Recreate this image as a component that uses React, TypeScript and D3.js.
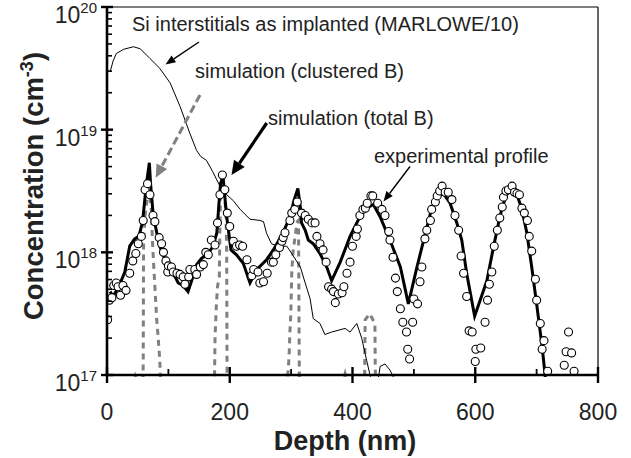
import React from "react";
import * as d3 from "d3";

const W = 631;
const H = 458;
const plot = { left: 107, right: 598, top: 7, bottom: 375 };

// Depth (nm) and log10 of concentration (cm^-3)
const interstitials: [number, number][] = [
  [5, 19.47], [10, 19.56], [15, 19.62], [27, 19.655], [43, 19.676], [54, 19.66],
  [70, 19.58], [86, 19.5], [103, 19.38], [119, 19.19], [135, 18.97], [146, 18.83],
  [153, 18.78], [162, 18.75], [172, 18.66], [184, 18.54], [195, 18.47], [206, 18.42],
  [217, 18.35], [233, 18.27], [249, 18.26], [255, 18.25], [260, 18.155], [268, 18.07],
  [279, 18.05], [293, 18.05], [301, 17.99], [315, 17.88], [326, 17.7], [331, 17.62],
  [336, 17.46], [347, 17.42], [355, 17.33], [366, 17.35], [388, 17.38], [396, 17.35],
  [407, 17.42], [415, 17.3], [423, 17.12], [429, 16.99], [434, 16.85], [440, 16.9],
  [445, 17.07], [453, 17.09], [461, 17.04], [467, 16.98], [472, 16.85],
];

const totalB: [number, number][] = [
  [5, 17.68], [10, 17.64], [20, 17.73], [29, 17.84], [37, 18.05], [45, 18.11], [52, 18.13],
  [58, 18.25], [64, 18.55], [69, 18.73], [71, 18.56], [75, 18.32], [81, 18.16], [86, 18.05],
  [97, 17.91], [111, 17.8], [116, 17.75], [124, 17.73], [132, 17.68], [138, 17.77], [146, 17.9],
  [154, 17.95], [165, 17.99], [173, 18.05], [179, 18.16], [182, 18.37], [185, 18.56], [189, 18.62],
  [191, 18.51], [195, 18.29], [202, 18.02], [211, 17.98], [222, 17.91], [233, 17.75], [244, 17.86],
  [260, 17.94], [271, 18.02], [287, 18.16], [298, 18.29], [305, 18.43], [311, 18.52], [315, 18.37],
  [317, 18.24], [323, 18.18], [328, 18.1], [336, 18.07], [347, 17.99], [358, 17.88], [366, 17.77],
  [380, 17.92], [396, 18.13], [412, 18.29], [423, 18.36], [434, 18.39], [445, 18.29], [461, 18.1],
  [478, 17.88], [491, 17.58], [505, 17.88], [516, 18.1], [527, 18.32], [537, 18.45], [548, 18.48],
  [559, 18.4], [570, 18.24], [578, 18.1], [586, 17.83], [599, 17.48], [608, 17.61], [619, 17.77],
  [630, 18.05], [638, 18.24], [644, 18.37], [652, 18.48], [660, 18.51], [668, 18.47], [676, 18.35],
  [684, 18.16], [692, 17.88], [700, 17.58], [709, 17.23], [714, 16.99], [718, 16.8],
];

const clusteredPeak1: [number, number][] = [
  [40, 16.9], [46, 16.99], [52, 16.9], [58.5, 16.9], [59, 17.1], [59.3, 17.6], [59.6, 18.07],
  [62, 18.3], [66, 18.45], [70, 18.45], [72, 18.37], [74, 18.1], [76, 17.9], [78, 17.72],
  [81, 17.45], [83.5, 17.3], [86, 17.12], [87.5, 16.9],
];
const clusteredPeak2: [number, number][] = [
  [175, 16.9], [176, 17.3], [178, 17.55], [180, 17.72], [183, 17.8], [184, 18.2], [185, 18.46],
  [188, 18.55], [191, 18.5], [194, 18.3], [195, 18.0], [195.3, 17.5], [195.6, 17.0], [196, 16.9],
];
const clusteredPeak3: [number, number][] = [
  [292, 16.9], [295.5, 17.05], [297, 17.2], [298, 17.35], [299.5, 17.5], [301, 17.83],
  [303, 18.0], [307, 18.15], [310, 18.25], [312, 18.26], [312.5, 17.8], [313, 17.3], [313.5, 16.9],
];
const clusteredPeak4: [number, number][] = [
  [382, 16.9], [388, 17.01], [394, 16.9], [419.5, 16.9], [420, 17.1], [420.6, 17.45],
  [428, 17.5], [436.5, 17.42], [437, 17.1], [437.5, 16.9],
];
const clusteredB = [clusteredPeak1, clusteredPeak2, clusteredPeak3, clusteredPeak4];

const experimental: [number, number][] = [
  [1, 17.45], [4, 17.61], [8, 17.63], [11, 17.73], [15, 17.75], [18, 17.72], [22, 17.65], [26, 17.73],
  [31, 17.69], [37, 17.83], [42, 17.93], [47, 17.99], [51, 18.07], [56, 18.13], [59, 18.26], [62, 18.51],
  [66, 18.56], [70, 18.47], [75, 18.3], [78, 18.25], [85, 18.12], [89, 18.07], [92, 18.0], [96, 17.93],
  [99, 17.84], [100, 17.89], [105, 17.88], [108, 17.84], [114, 17.83], [119, 17.82], [124, 17.8],
  [127, 17.74], [133, 17.8], [135, 17.86], [143, 17.86], [146, 17.82], [152, 17.88], [157, 17.9],
  [161, 18.0], [165, 17.98], [170, 18.1], [176, 18.06], [180, 18.24], [184, 18.47], [188, 18.63],
  [192, 18.51], [196, 18.32], [200, 18.21], [206, 18.09], [211, 18.05], [216, 18.06], [221, 18.05],
  [228, 17.94], [236, 17.81], [239, 17.86], [246, 17.84], [249, 17.75], [255, 17.76], [261, 17.83],
  [268, 17.92], [271, 17.92], [275, 17.98], [281, 18.04], [285, 18.09], [287, 18.12], [290, 18.16],
  [298, 18.26], [301, 18.32], [306, 18.35], [310, 18.41], [317, 18.32], [323, 18.3], [328, 18.27],
  [334, 18.24], [339, 18.24], [342, 18.13], [347, 18.07], [352, 18.02], [357, 17.92], [361, 17.72],
  [366, 17.7], [369, 17.68], [372, 17.59], [377, 17.66], [383, 17.67], [386, 17.72], [391, 17.83],
  [396, 17.92], [400, 18.05], [406, 18.13], [408, 18.19], [412, 18.3], [417, 18.35], [421, 18.36],
  [424, 18.4], [430, 18.46], [433, 18.46], [441, 18.4], [448, 18.35], [453, 18.3], [459, 18.17],
  [461, 18.1], [466, 17.96], [470, 17.79], [473, 17.68], [478, 17.54], [482, 17.43], [488, 17.35],
  [490, 17.21], [493, 17.13], [498, 17.43], [500, 17.62], [506, 17.58], [510, 17.76], [513, 17.88],
  [518, 18.11], [521, 18.18], [527, 18.26], [529, 18.35], [535, 18.41], [538, 18.46], [542, 18.5],
  [546, 18.54], [551, 18.49], [556, 18.49], [562, 18.43], [567, 18.3], [573, 18.18], [577, 17.97],
  [581, 17.83], [586, 17.64], [590, 17.36], [595, 17.35], [600, 17.11], [601, 17.21], [609, 17.22],
  [616, 17.43], [620, 17.61], [623, 17.74], [627, 17.84], [631, 18.05], [636, 18.18], [640, 18.28],
  [644, 18.37], [646, 18.45], [650, 18.5], [654, 18.51], [660, 18.54], [664, 18.49], [668, 18.48],
  [672, 18.47], [676, 18.36], [680, 18.32], [685, 18.26], [688, 18.13], [692, 18.01], [698, 17.78],
  [700, 17.61], [706, 17.42], [709, 17.21], [712, 17.28], [718, 17.03], [745, 17.08], [748, 17.19],
  [752, 17.35], [757, 17.18], [761, 17.03],
];

const xTickValues = [0, 200, 400, 600, 800];
const xMinorValues = [100, 300, 500, 700];
const yDecades = [17, 18, 19, 20];

const FONT = "'Liberation Sans', Arial, Helvetica, sans-serif";
const TEXT = "#222";

function arrowHead(x1: number, y1: number, x2: number, y2: number, len: number, half: number) {
  const a = Math.atan2(y2 - y1, x2 - x1);
  const bx = x2 - len * Math.cos(a);
  const by = y2 - len * Math.sin(a);
  const px = -Math.sin(a) * half;
  const py = Math.cos(a) * half;
  return { points: `${x2},${y2} ${bx + px},${by + py} ${bx - px},${by - py}`, bx, by };
}

export default function App() {
  const x = d3.scaleLinear().domain([0, 800]).range([plot.left, plot.right]);
  const y = d3.scaleLog().domain([1e17, 1e20]).range([plot.bottom, plot.top]);
  const line = d3
    .line<[number, number]>()
    .x((d) => x(d[0]))
    .y((d) => y(Math.pow(10, d[1])));

  const minorY: number[] = [];
  yDecades.slice(0, -1).forEach((e) => {
    for (let m = 2; m <= 9; m++) minorY.push(m * Math.pow(10, e));
  });

  const arrows = [
    { x1: 199, y1: 42, x2: 165.5, y2: 64.5, w: 1.4, color: "#000", dash: undefined, len: 10, half: 4 },
    { x1: 200, y1: 95, x2: 155.7, y2: 177.7, w: 3, color: "#808080", dash: "8 4", len: 13, half: 6 },
    { x1: 266.7, y1: 123, x2: 231.5, y2: 175, w: 3.2, color: "#000", dash: undefined, len: 14, half: 6.5 },
    { x1: 410, y1: 166.5, x2: 383.5, y2: 201.5, w: 1.4, color: "#000", dash: undefined, len: 10, half: 4 },
  ];

  return (
    <svg width={W} height={H} style={{ display: "block", position: "absolute", left: 0, top: 0, background: "#fff" }}>
      <defs>
        <clipPath id="plotClip">
          <rect x={plot.left} y={plot.top} width={plot.right - plot.left} height={plot.bottom - plot.top + 2} />
        </clipPath>
      </defs>
      <rect x={0} y={0} width={W} height={H} fill="#fff" />

      {/* frame top/right */}
      <line x1={plot.left} x2={plot.right} y1={plot.top} y2={plot.top} stroke="#000" strokeWidth={1.2} />
      <line x1={plot.right} x2={plot.right} y1={plot.top} y2={plot.bottom} stroke="#000" strokeWidth={1.2} />

      <g clipPath="url(#plotClip)">
        {clusteredB.map((seg, i) => (
          <path key={i} d={line(seg) || ""} fill="none" stroke="#808080" strokeWidth={3} strokeDasharray="6 5" />
        ))}
        <path d={line(interstitials) || ""} fill="none" stroke="#000" strokeWidth={1} />
        <path d={line(totalB) || ""} fill="none" stroke="#000" strokeWidth={3} strokeLinejoin="miter" />
        {experimental.map((d, i) => (
          <circle key={i} cx={x(d[0])} cy={y(Math.pow(10, d[1]))} r={4} fill="#fff" stroke="#000" strokeWidth={1.1} />
        ))}
      </g>

      {/* axes */}
      <line x1={plot.left} x2={plot.left} y1={plot.top} y2={plot.bottom + 1} stroke="#000" strokeWidth={2.6} />
      <line x1={plot.left - 1} x2={plot.right + 1} y1={plot.bottom} y2={plot.bottom} stroke="#000" strokeWidth={2.6} />

      {minorY.map((v, i) => (
        <line key={i} x1={plot.left} x2={plot.left + 5} y1={y(v)} y2={y(v)} stroke="#000" strokeWidth={1.6} />
      ))}
      {yDecades.map((e) => (
        <g key={e}>
          <line x1={plot.left - 6} x2={plot.left + 6} y1={y(Math.pow(10, e))} y2={y(Math.pow(10, e))} stroke="#000" strokeWidth={2.4} />
          <text x={97} y={y(Math.pow(10, e)) + 16} textAnchor="end" fontFamily={FONT} fontSize={23} fill={TEXT}>
            10
            <tspan dy={-10} fontSize={15}>{e}</tspan>
          </text>
        </g>
      ))}
      {xMinorValues.map((v) => (
        <line key={v} x1={x(v)} x2={x(v)} y1={plot.bottom} y2={plot.bottom - 6} stroke="#000" strokeWidth={1.8} />
      ))}
      {xTickValues.map((v) => (
        <g key={v}>
          <line x1={x(v)} x2={x(v)} y1={plot.bottom - 8} y2={plot.bottom + 8} stroke="#000" strokeWidth={2.4} />
          <text x={x(v)} y={420} textAnchor="middle" fontFamily={FONT} fontSize={23} fill={TEXT}>
            {v}
          </text>
        </g>
      ))}

      {/* axis titles */}
      <text x={345} y={450} textAnchor="middle" fontFamily={FONT} fontSize={27} fontWeight="bold" fill={TEXT}>
        Depth (nm)
      </text>
      <text
        transform="translate(43,186) rotate(-90)"
        textAnchor="middle"
        fontFamily={FONT}
        fontSize={27.5}
        fontWeight="bold"
        fill={TEXT}
      >
        Concentration (cm
        <tspan dy={-10} fontSize={18}>-3</tspan>
        <tspan dy={10}>)</tspan>
      </text>

      {/* annotations */}
      <text x={132} y={31} fontFamily={FONT} fontSize={20} fill={TEXT}>
        Si interstitials as implanted (MARLOWE/10)
      </text>
      <text x={195} y={78} fontFamily={FONT} fontSize={20} fill={TEXT}>
        simulation (clustered B)
      </text>
      <text x={268} y={125} fontFamily={FONT} fontSize={20} fill={TEXT}>
        simulation (total B)
      </text>
      <text x={374} y={163} fontFamily={FONT} fontSize={20} fill={TEXT}>
        experimental profile
      </text>

      {arrows.map((a, i) => {
        const h = arrowHead(a.x1, a.y1, a.x2, a.y2, a.len, a.half);
        return (
          <g key={i}>
            <line x1={a.x1} y1={a.y1} x2={h.bx} y2={h.by} stroke={a.color} strokeWidth={a.w} strokeDasharray={a.dash} />
            <polygon points={h.points} fill={a.color} />
          </g>
        );
      })}
    </svg>
  );
}
